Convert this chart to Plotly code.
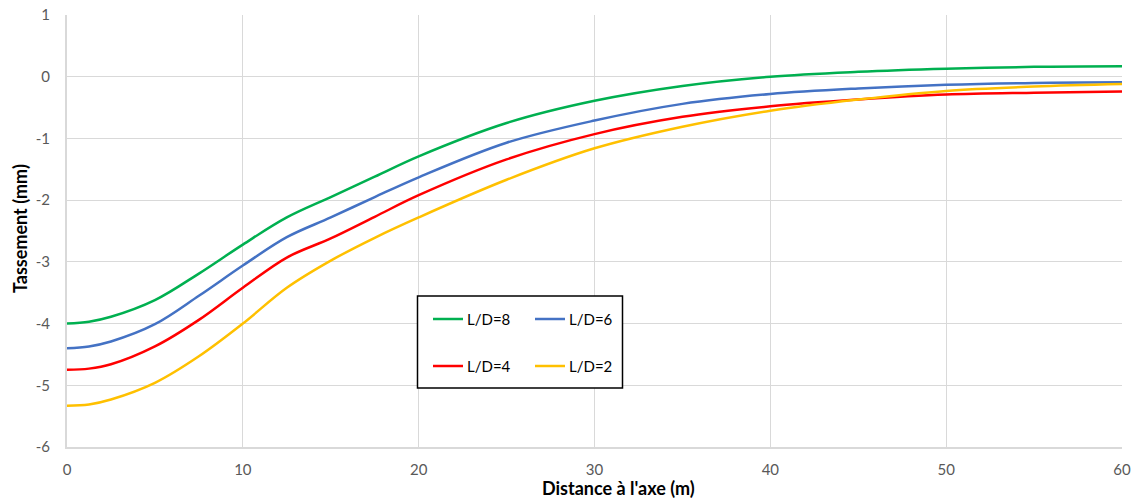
import plotly.graph_objects as go

x_m = [0, 1.25, 2.5, 5, 7.5, 10, 12.5, 15, 17.5, 20, 25, 30, 35, 40, 45, 50, 55, 60]
ld8 = [-4.00, -3.97, -3.89, -3.62, -3.19, -2.72, -2.28, -1.95, -1.62, -1.29, -0.75, -0.39, -0.15, 0.00, 0.08, 0.13, 0.16, 0.17]
ld6 = [-4.40, -4.37, -4.29, -4.01, -3.55, -3.06, -2.60, -2.28, -1.95, -1.63, -1.07, -0.71, -0.44, -0.28, -0.19, -0.13, -0.10, -0.09]
ld4 = [-4.75, -4.73, -4.66, -4.37, -3.94, -3.42, -2.93, -2.62, -2.27, -1.92, -1.34, -0.93, -0.65, -0.48, -0.37, -0.29, -0.26, -0.24]
ld2 = [-5.33, -5.31, -5.23, -4.96, -4.53, -4.00, -3.42, -2.98, -2.61, -2.28, -1.67, -1.16, -0.81, -0.55, -0.37, -0.23, -0.16, -0.12]

series = [("L/D=8", ld8, "#00B050"), ("L/D=6", ld6, "#4472C4"),
          ("L/D=4", ld4, "#FF0000"), ("L/D=2", ld2, "#FFC000")]

x_ticks = [0, 10, 20, 30, 40, 50, 60]
y_ticks = [-6, -5, -4, -3, -2, -1, 0, 1]
y_ticktext = ["-6", "-5", "-4", "-3", "-2", "-1", "0", "1"]

fig = go.Figure()
for name, ys, col in series:
    fig.add_trace(go.Scatter(x=x_m, y=ys, mode="lines", name=name,
                             line=dict(color=col, width=2.5, shape="spline", smoothing=1.0),
                             showlegend=False))

W, H = 1137, 503
L, R, T, B = 67, 15, 15, 56
pw, ph = W - L - R, H - T - B

def px(xp):
    return (xp - L) / pw

def py(yp):
    return 1 - (yp - T) / ph

shapes = []
annotations = []
shapes.append(dict(type="rect", xref="paper", yref="paper",
                   x0=px(417.5), x1=px(622.5), y0=py(388), y1=py(296),
                   line=dict(color="#000000", width=1.5), fillcolor="white", layer="above"))
leg_pos = [(433, 319), (535, 319), (433, 366), (535, 366)]
for (name, ys, col), (lx, ly) in zip(series, leg_pos):
    shapes.append(dict(type="line", xref="paper", yref="paper",
                       x0=px(lx), x1=px(lx + 30), y0=py(ly), y1=py(ly),
                       line=dict(color=col, width=2.5), layer="above"))
    annotations.append(dict(text=name, xref="paper", yref="paper",
                            x=px(lx + 32), y=py(ly), xanchor="left", yanchor="middle",
                            showarrow=False, font=dict(size=15, color="#000000")))

annotations.append(dict(text="<b>Distance à l'axe (m)</b>", xref="paper", yref="paper",
                        x=px(618), y=py(488), xanchor="center", yanchor="middle",
                        showarrow=False, font=dict(size=18, color="#000000")))
annotations.append(dict(text="<b>Tassement (mm)</b>", xref="paper", yref="paper",
                        x=px(20), y=py(229), xanchor="center", yanchor="middle",
                        textangle=-90, showarrow=False, font=dict(size=18, color="#000000")))

fig.update_layout(
    width=W, height=H,
    margin=dict(l=L, r=R, t=T, b=B),
    paper_bgcolor="white", plot_bgcolor="white",
    font=dict(family="Lato, Open Sans, sans-serif", size=14, color="#595959"),
    shapes=shapes, annotations=annotations,
    xaxis=dict(range=[0, 60], tickvals=x_ticks, showgrid=True, gridcolor="#D9D9D9",
               gridwidth=1, zeroline=False, showline=True, linecolor="#D9D9D9", linewidth=2,
               ticks="", tickfont=dict(size=15, color="#595959"), ticklabelstandoff=8,
               automargin=False),
    yaxis=dict(range=[-6, 1], tickvals=y_ticks, ticktext=y_ticktext, showgrid=True,
               gridcolor="#D9D9D9", gridwidth=1, zeroline=False, showline=True,
               linecolor="#D9D9D9", linewidth=2, ticks="",
               tickfont=dict(size=15, color="#595959"), ticklabelstandoff=12,
               automargin=False),
)

fig.write_html("out.html")
